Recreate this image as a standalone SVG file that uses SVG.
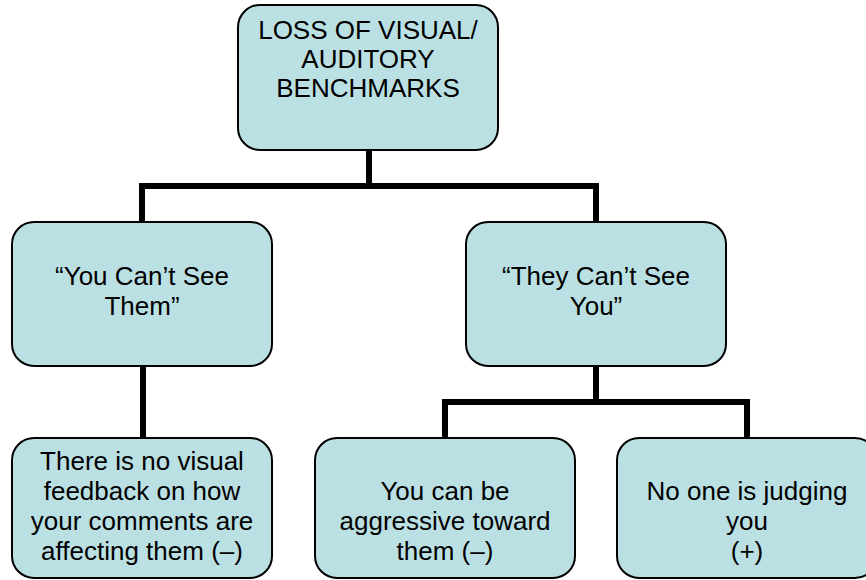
<svg xmlns="http://www.w3.org/2000/svg" width="866" height="580" viewBox="0 0 866 580">
<style>
.box{fill:#BBE0E3;stroke:#000;stroke-width:2}
.t{font-family:"Liberation Sans",Arial,sans-serif;font-size:26px;fill:#000;text-anchor:middle}
.c{fill:none;stroke:#000;stroke-width:6;stroke-linejoin:miter;stroke-linecap:butt}
</style>
<rect width="866" height="580" fill="#fff"/>
<g id="connectors">
<path class="c" d="M369 150 V186 M142 222 V186 H596 V222"/>
<path class="c" d="M143 366 V438"/>
<path class="c" d="M596 366 V402 M445 438 V402 H747 V438"/>
</g>
<g id="n-root">
<rect class="box" x="238" y="5" width="260" height="145" rx="22"/>
<text class="t" x="368" y="39">LOSS OF VISUAL/</text>
<text class="t" x="368" y="68">AUDITORY</text>
<text class="t" x="368" y="97">BENCHMARKS</text>
</g>
<g id="n-cant-see-them">
<rect class="box" x="12" y="222" width="260" height="144" rx="22"/>
<text class="t" x="142" y="285">“You Can’t See</text>
<text class="t" x="142" y="315">Them”</text>
</g>
<g id="n-cant-see-you">
<rect class="box" x="466" y="222" width="260" height="144" rx="22"/>
<text class="t" x="596" y="285">“They Can’t See</text>
<text class="t" x="596" y="315">You”</text>
</g>
<g id="n-no-feedback">
<rect class="box" x="12" y="438" width="260" height="140" rx="22"/>
<text class="t" x="142" y="470">There is no visual</text>
<text class="t" x="142" y="500">feedback on how</text>
<text class="t" x="142" y="530">your comments are</text>
<text class="t" x="142" y="560">affecting them (–)</text>
</g>
<g id="n-aggressive">
<rect class="box" x="315" y="438" width="260" height="140" rx="22"/>
<text class="t" x="445" y="500">You can be</text>
<text class="t" x="445" y="530">aggressive toward</text>
<text class="t" x="445" y="560">them (–)</text>
</g>
<g id="n-no-judging">
<rect class="box" x="617" y="438" width="260" height="140" rx="22"/>
<text class="t" x="747" y="500">No one is judging</text>
<text class="t" x="747" y="530">you</text>
<text class="t" x="747" y="560">(+)</text>
</g>
</svg>
